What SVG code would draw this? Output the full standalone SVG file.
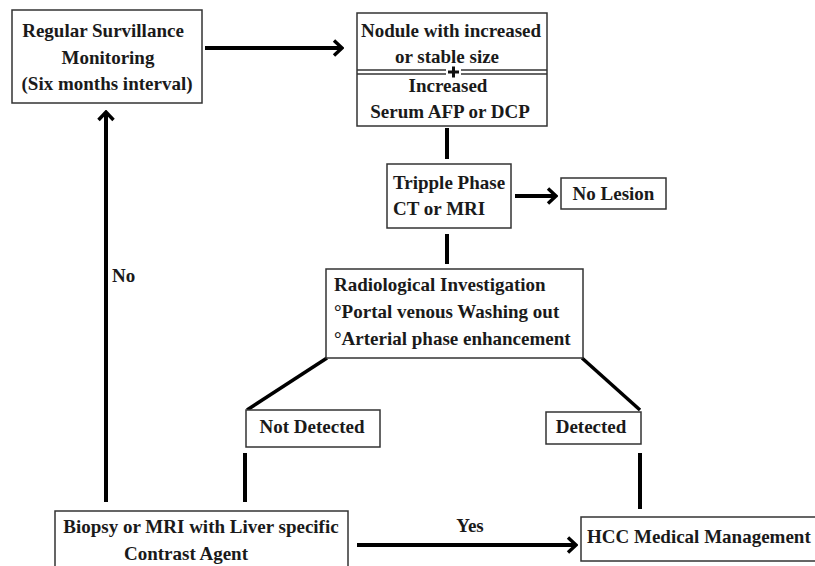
<svg xmlns="http://www.w3.org/2000/svg" width="815" height="566" viewBox="0 0 815 566">
<defs>
<marker id="chev" viewBox="0 0 12 18" refX="10" refY="9" markerWidth="12" markerHeight="18" markerUnits="userSpaceOnUse" orient="auto">
<path d="M2,1.5 L10,9 L2,16.5" fill="none" stroke="#000" stroke-width="3.4"/>
</marker>
<style>
.box{fill:#fff;stroke:#333;stroke-width:1.5}
.t{font-family:"Liberation Serif","Times New Roman",serif;font-weight:bold;font-size:19px;fill:#1a1a1a}
.m{text-anchor:middle}
.ln{stroke:#000;stroke-width:4;fill:none}
.dl{stroke:#333;stroke-width:1.4}
</style>
</defs>
<rect width="815" height="566" fill="#fff"/>

<g id="connectors">
<line class="ln" x1="205" y1="48" x2="342" y2="48" marker-end="url(#chev)"/>
<line class="ln" x1="447" y1="128" x2="447" y2="159"/>
<line class="ln" x1="515" y1="196" x2="556" y2="196" marker-end="url(#chev)"/>
<line class="ln" x1="447" y1="234" x2="447" y2="264"/>
<line class="ln" style="stroke-width:3.5" x1="327" y1="358" x2="247" y2="410"/>
<line class="ln" style="stroke-width:3.5" x1="582" y1="358" x2="640" y2="410"/>
<line class="ln" x1="245" y1="453" x2="245" y2="502"/>
<line class="ln" x1="640" y1="453" x2="640" y2="509"/>
<line class="ln" x1="106" y1="502" x2="106" y2="112" marker-end="url(#chev)"/>
<line class="ln" x1="357" y1="545" x2="576" y2="545" marker-end="url(#chev)"/>
<text class="t" x="112" y="282">No</text>
<text class="t m" x="470" y="532">Yes</text>
</g>

<g id="surveillance">
<rect class="box" x="12" y="10" width="190" height="93"/>
<text class="t m" x="103" y="37">Regular Survillance</text>
<text class="t m" x="108" y="64">Monitoring</text>
<text class="t m" x="107" y="90">(Six months interval)</text>
</g>

<g id="nodule">
<rect class="box" x="357" y="13" width="190" height="113"/>
<line class="dl" x1="357" y1="70" x2="446" y2="70"/>
<line class="dl" x1="357" y1="74" x2="446" y2="74"/>
<line class="dl" x1="461" y1="70" x2="547" y2="70"/>
<line class="dl" x1="461" y1="74" x2="547" y2="74"/>
<path d="M448,72 H459 M453.5,66.5 V77.5" stroke="#111" stroke-width="3" fill="none"/>
<text class="t m" x="451" y="37">Nodule with increased</text>
<text class="t m" x="447" y="63">or stable size</text>
<text class="t m" x="448" y="92">Increased</text>
<text class="t m" x="450" y="118">Serum AFP or DCP</text>
</g>

<g id="triple">
<rect class="box" x="387" y="164" width="124" height="64"/>
<text class="t" x="393" y="189">Tripple Phase</text>
<text class="t" x="393" y="215">CT or MRI</text>
</g>

<g id="nolesion">
<rect class="box" x="561" y="178" width="105" height="31"/>
<text class="t m" x="613.5" y="200">No Lesion</text>
</g>

<g id="radiological">
<rect class="box" x="326" y="269" width="257" height="89"/>
<text class="t" x="334" y="291">Radiological Investigation</text>
<text class="t" x="334" y="318">°Portal venous Washing out</text>
<text class="t" x="334" y="345">°Arterial phase enhancement</text>
</g>

<g id="notdetected">
<rect class="box" x="246" y="410" width="134" height="37"/>
<text class="t m" x="312" y="433">Not Detected</text>
</g>

<g id="detected">
<rect class="box" x="546" y="412" width="95" height="32"/>
<text class="t m" x="591" y="433">Detected</text>
</g>

<g id="biopsy">
<rect class="box" x="55" y="511" width="293" height="60"/>
<text class="t m" x="201" y="533">Biopsy or MRI with Liver specific</text>
<text class="t m" x="186" y="560">Contrast Agent</text>
</g>

<g id="hcc">
<rect class="box" x="581" y="517" width="240" height="44"/>
<text class="t" x="587" y="543">HCC Medical Management</text>
</g>
</svg>
